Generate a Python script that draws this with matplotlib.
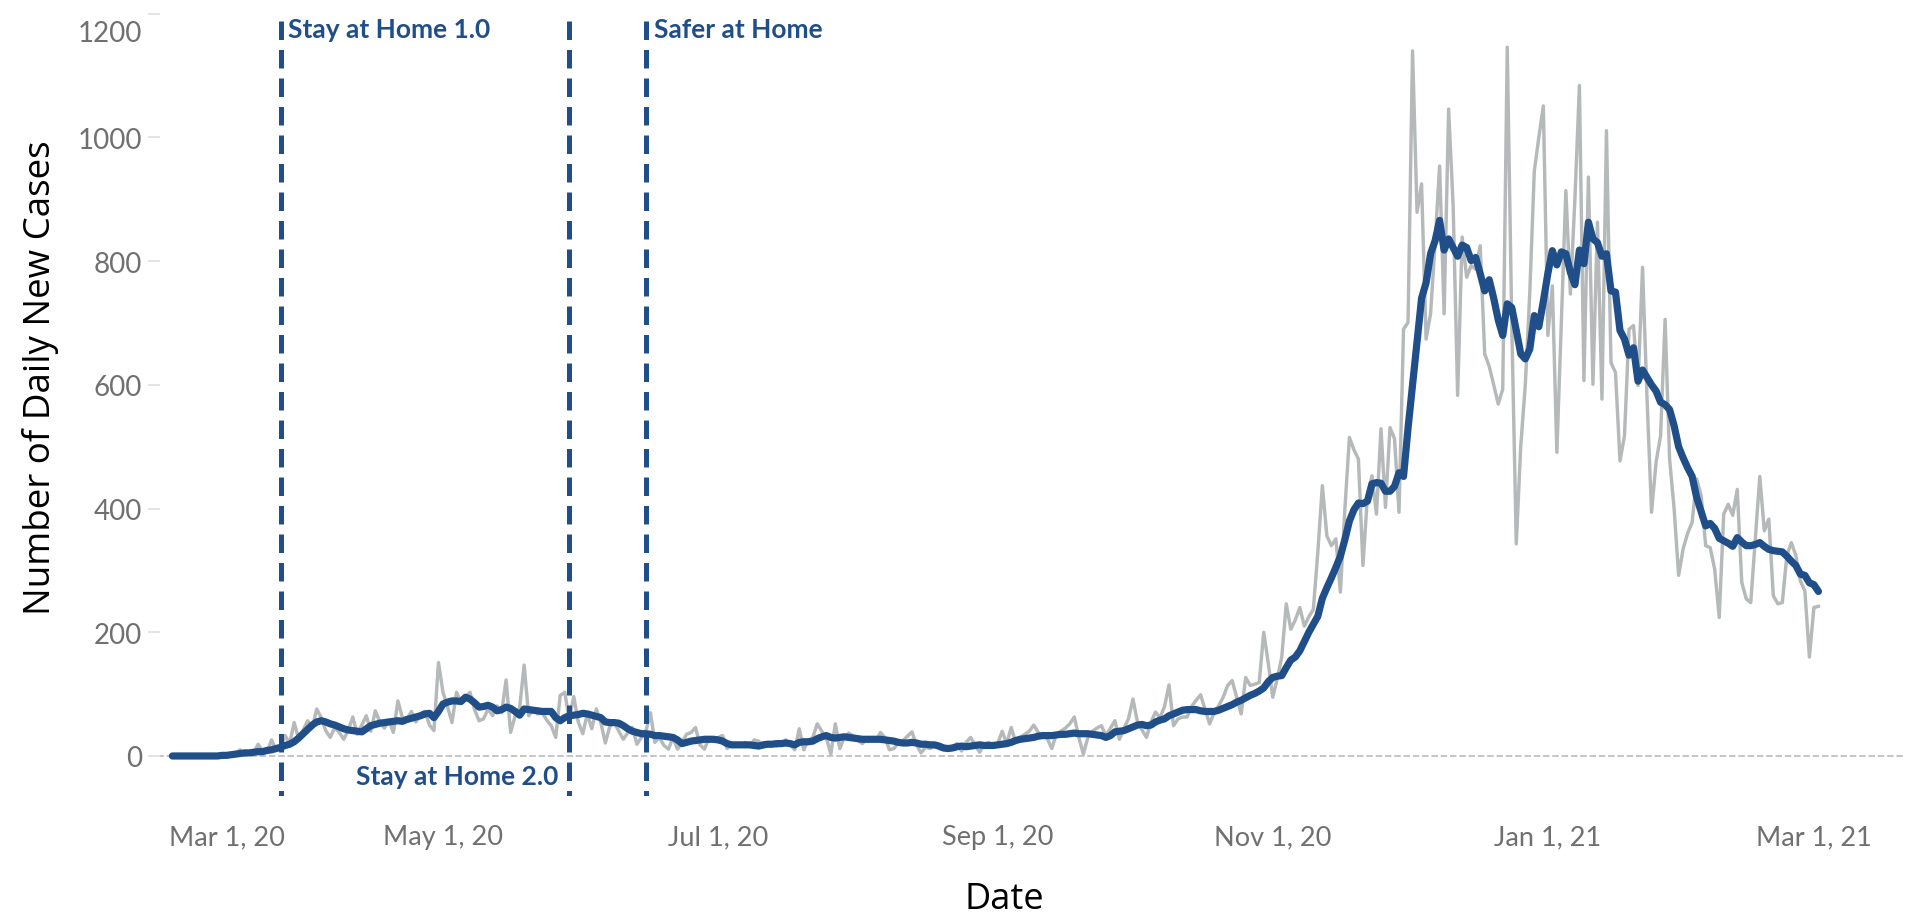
import matplotlib
matplotlib.use("Agg")
import matplotlib.pyplot as plt
import pandas as pd
from matplotlib.transforms import ScaledTranslation

# ---------------- data ----------------
start_date = "2020-03-02"

daily_cases = [
    0, 0, 0, 0, 0, 0, 1, 0, 1, 1,
    1, 2, 1, 3, 4, 10, 3, 6, 5, 19,
    8, 7, 26, 9, 14, 33, 20, 54, 28, 42,
    57, 45, 76, 62, 41, 30, 46, 38, 27, 42,
    63, 35, 50, 65, 40, 73, 55, 45, 58, 38,
    89, 62, 60, 72, 55, 68, 72, 50, 41, 151,
    103, 80, 54, 103, 87, 95, 103, 75, 57, 60,
    76, 65, 81, 70, 123, 38, 65, 78, 147, 65,
    75, 68, 70, 58, 49, 30, 98, 103, 60, 96,
    55, 36, 68, 44, 76, 54, 21, 48, 54, 40,
    27, 38, 46, 19, 30, 40, 70, 22, 30, 17,
    11, 30, 11, 22, 35, 38, 46, 18, 11, 30,
    25, 30, 33, 12, 18, 20, 17, 22, 15, 26,
    24, 14, 18, 22, 16, 20, 26, 18, 10, 44,
    10, 25, 30, 52, 40, 30, 3, 52, 12, 30,
    37, 32, 25, 20, 28, 27, 25, 38, 30, 10,
    12, 22, 25, 32, 39, 18, 5, 14, 12, 16,
    12, 10, 12, 15, 20, 8, 22, 30, 18, 6,
    18, 22, 15, 20, 40, 20, 46, 22, 30, 35,
    40, 50, 38, 32, 28, 12, 35, 40, 45, 52,
    63, 30, 3, 30, 40, 45, 49, 33, 45, 57,
    27, 45, 60, 92, 55, 42, 30, 55, 71, 62,
    80, 115, 49, 60, 63, 63, 80, 90, 99, 75,
    52, 70, 81, 95, 114, 122, 95, 68, 127, 114,
    116, 119, 200, 150, 95, 125, 160, 246, 205, 220,
    240, 210, 225, 237, 330, 437, 356, 340, 351, 265,
    400, 515, 495, 480, 308, 420, 453, 391, 529, 402,
    531, 513, 394, 690, 701, 1140, 879, 925, 674, 715,
    830, 954, 715, 1046, 890, 583, 839, 774, 793, 787,
    825, 650, 630, 600, 569, 593, 1146, 700, 343, 502,
    600, 750, 946, 1000, 1051, 680, 760, 491, 700, 914,
    747, 900, 1084, 607, 936, 601, 863, 577, 1011, 636,
    620, 477, 518, 690, 696, 599, 790, 577, 394, 475,
    518, 706, 480, 400, 292, 335, 360, 378, 448, 421,
    340, 337, 302, 224, 391, 407, 389, 431, 281, 254,
    248, 351, 452, 364, 383, 259, 246, 248, 324, 345,
    324, 283, 267, 160, 240, 242,
]

avg_cases = [
    0, 0, 0, 0, 0, 0, 0, 0, 0, 0,
    0, 1, 1, 2, 3, 4, 5, 5, 6, 7,
    7, 9, 10, 12, 14, 17, 19, 23, 29, 36,
    43, 50, 55, 57, 55, 52, 50, 47, 44, 42,
    41, 40, 39, 44, 49, 51, 53, 54, 55, 56,
    57, 56, 59, 61, 63, 65, 68, 69, 62, 72,
    84, 87, 89, 89, 88, 95, 92, 86, 79, 80,
    82, 79, 73, 75, 79, 77, 72, 66, 76, 75,
    74, 73, 72, 72, 72, 62, 57, 62, 65, 66,
    67, 69, 68, 66, 64, 62, 55, 54, 54, 53,
    49, 44, 40, 38, 36, 36, 35, 33, 33, 32,
    31, 30, 26, 20, 22, 24, 25, 26, 27, 27,
    27, 26, 24, 20, 18, 18, 18, 18, 18, 17,
    16, 18, 19, 19, 20, 20, 21, 20, 18, 22,
    23, 23, 24, 28, 31, 33, 30, 29, 30, 31,
    30, 29, 28, 27, 27, 27, 27, 27, 26, 25,
    24, 22, 21, 21, 22, 21, 19, 19, 18, 18,
    16, 13, 12, 13, 15, 16, 15, 16, 17, 18,
    17, 17, 17, 18, 19, 20, 22, 25, 27, 28,
    29, 30, 32, 33, 33, 33, 34, 35, 35, 36,
    37, 36, 36, 36, 35, 34, 33, 30, 33, 39,
    40, 41, 44, 47, 50, 51, 49, 50, 55, 58,
    60, 65, 68, 71, 74, 75, 75, 75, 73, 72,
    72, 72, 74, 77, 80, 83, 87, 90, 94, 98,
    101, 105, 110, 120, 127, 129, 130, 143, 155, 160,
    170, 185, 200, 213, 226, 255, 272, 288, 305, 323,
    350, 380, 398, 409, 408, 412, 440, 442, 441, 428,
    428, 436, 458, 452, 530, 600, 670, 740, 765, 812,
    833, 866, 818, 836, 822, 808, 826, 822, 801, 806,
    780, 752, 770, 740, 705, 680, 731, 725, 688, 650,
    642, 658, 712, 694, 735, 780, 817, 794, 815, 812,
    782, 762, 818, 796, 863, 836, 830, 808, 812, 752,
    750, 688, 674, 648, 660, 606, 624, 612, 600, 590,
    572, 568, 560, 534, 500, 482, 466, 452, 418, 395,
    372, 376, 368, 352, 348, 344, 339, 353, 346, 340,
    340, 342, 345, 339, 334, 332, 331, 330, 323, 315,
    308, 294, 292, 280, 277, 266,
]

policy_dates = ["2020-03-26", "2020-05-29", "2020-06-15"]
policy_labels = ["Stay at Home 1.0", "Stay at Home 2.0", "Safer at Home"]

x_tick_dates = ["2020-03-01", "2020-05-01", "2020-07-01", "2020-09-01",
                "2020-11-01", "2021-01-01", "2021-03-01"]
x_tick_labels = ["Mar 1, 20", "May 1, 20", "Jul 1, 20", "Sep 1, 20",
                 "Nov 1, 20", "Jan 1, 21", "Mar 1, 21"]
y_ticks = [0, 200, 400, 600, 800, 1000, 1200]

# ---------------- style ----------------
BLUE = "#1f4e89"
GRAY = "#b5b9b9"
TICK_GRAY = "#707070"
plt.rcParams["lines.scale_dashes"] = False

W, H = 1905, 920


def px(p):
    return p * 72.0 / 100.0


fig = plt.figure(figsize=(W / 100, H / 100), dpi=100)
ax_l, ax_r, ax_t, ax_b = 148, 1905, 12, 797
ax = fig.add_axes([ax_l / W, 1 - ax_b / H, (ax_r - ax_l) / W, (ax_b - ax_t) / H])

dates = pd.date_range(start_date, periods=len(daily_cases), freq="D")
base = pd.Timestamp("2020-03-01")
ax.set_xlim(base + pd.Timedelta(days=-4.41), base + pd.Timedelta(days=385.2))
ax.set_ylim(-64.7, 1204.5)

ax.axhline(0, color="#c6c6c6", lw=px(2), ls=(0, (px(6.5), px(2.8))), zorder=1)
ax.plot(dates, daily_cases, color=GRAY, lw=px(3.4), zorder=2,
        solid_joinstyle="round")
ax.plot(dates, avg_cases, color=BLUE, lw=px(7.2), zorder=3,
        solid_joinstyle="round", solid_capstyle="round")
for d in policy_dates:
    ax.axvline(pd.Timestamp(d), color=BLUE, lw=px(5),
               ls=(px(13), (px(18.5), px(10))), dash_capstyle="butt", zorder=4)

# annotations
lab_font = dict(family="Lato", weight="bold", size=19, color=BLUE)
ax.annotate(policy_labels[0], xy=(pd.Timestamp(policy_dates[0]), 1162),
            xytext=(px(7), 0), textcoords="offset points",
            ha="left", va="baseline", **lab_font)
ax.annotate(policy_labels[2], xy=(pd.Timestamp(policy_dates[2]), 1162),
            xytext=(px(8), 0), textcoords="offset points",
            ha="left", va="baseline", **lab_font)
ax.annotate(policy_labels[1], xy=(pd.Timestamp(policy_dates[1]), -45.3),
            xytext=(px(-11), 0), textcoords="offset points",
            ha="right", va="baseline", **lab_font)

# axes & ticks
for s in ax.spines.values():
    s.set_visible(False)
ax.set_yticks(y_ticks)
ax.set_yticklabels([str(v) for v in y_ticks])
ax.set_xticks([pd.Timestamp(d) for d in x_tick_dates])
ax.set_xticklabels(x_tick_labels)
ax.tick_params(axis="y", direction="in", length=px(12), width=px(2),
               color="#e3e3e3", pad=px(6), labelsize=20, labelcolor=TICK_GRAY)
ax.tick_params(axis="x", length=0, pad=px(28), labelsize=19.5,
               labelcolor=TICK_GRAY)
for lbl in ax.get_xticklabels() + ax.get_yticklabels():
    lbl.set_fontfamily("Lato")

xl = ax.get_xticklabels()[0]
xl.set_transform(xl.get_transform() + ScaledTranslation(59 / 100, 0, fig.dpi_scale_trans))
yl = ax.get_yticklabels()[-1]
yl.set_transform(yl.get_transform() + ScaledTranslation(0, -17 / 100, fig.dpi_scale_trans))

# axis titles
fig.text(40.5 / W, 1 - 378 / H, "Number of Daily New Cases", rotation=90,
         ha="center", va="center", fontsize=26.5, family="Open Sans",
         color="black")
fig.text(1004 / W, 1 - 909 / H, "Date", ha="center", va="baseline",
         fontsize=26, family="Open Sans", color="black")

fig.savefig("out.png", dpi=100)
